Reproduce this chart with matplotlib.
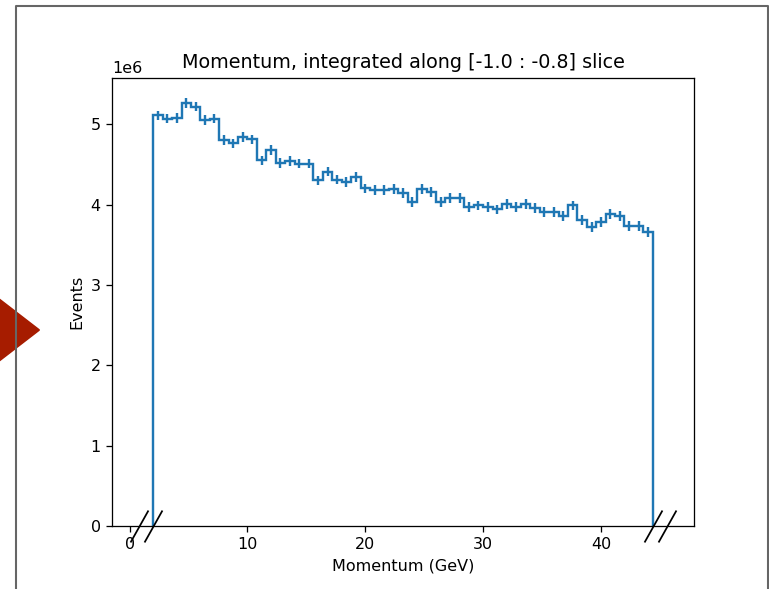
import numpy as np
import matplotlib
matplotlib.use("Agg")
import matplotlib.pyplot as plt
from matplotlib.patches import Polygon
from matplotlib.lines import Line2D
import matplotlib.transforms as mtransforms

# Momentum histogram, 53 bins of 0.8 GeV between 2.0 and 44.4 GeV
p_min = 2.0
p_max = 44.4
n_bins = 53

# Events per bin (units of 1e6)
events = [
    5.11, 5.07, 5.08, 5.26, 5.22, 5.05, 5.07, 4.80, 4.76, 4.84,
    4.81, 4.55, 4.68, 4.52, 4.54, 4.51, 4.51, 4.30, 4.41, 4.31,
    4.28, 4.34, 4.20, 4.18, 4.18, 4.19, 4.14, 4.03, 4.19, 4.16,
    4.03, 4.08, 4.08, 3.97, 3.99, 3.97, 3.94, 4.01, 3.97, 4.01,
    3.96, 3.91, 3.91, 3.86, 3.99, 3.81, 3.72, 3.78, 3.88, 3.86,
    3.73, 3.73, 3.66,
]
error = 0.06  # same units, roughly constant

edges = np.linspace(p_min, p_max, n_bins + 1)
centers = 0.5 * (edges[1:] + edges[:-1])
counts = np.array(events) * 1e6

W, H, DPI = 769, 589, 115
fig = plt.figure(figsize=(W / DPI, H / DPI), dpi=DPI)

# slide decorations: red arrow and gray frame around the figure
tri = Polygon([(-10 / W, 1 - 292 / H), (39.3 / W, 1 - 330 / H), (-10 / W, 1 - 368 / H)],
              closed=True, transform=fig.transFigure, color="#a61c00", zorder=0)
fig.add_artist(tri)
frame = Line2D([16.3 / W, 16.3 / W, 767.8 / W, 767.8 / W],
               [0, 1 - 5.5 / H, 1 - 5.5 / H, 0],
               transform=fig.transFigure, color="#666666", lw=1.3, zorder=1)
fig.add_artist(frame)

ax = fig.add_axes([112 / W, 63 / H, 582 / W, 448 / H])
ax.stairs(counts, edges, baseline=0, color="C0", lw=1.5)
ax.errorbar(centers, counts, yerr=error * 1e6, fmt="none", ecolor="C0", elinewidth=1.5)

# axis break marks at both ends of the x axis
trans = mtransforms.blended_transform_factory(ax.transData, ax.transAxes)
ax.plot([p_min - 1.2, p_min, p_max, p_max + 1.2], [0, 0, 0, 0], transform=trans,
        marker=[(-0.56, -1), (0.56, 1)], markersize=20, linestyle="none",
        color="k", mec="k", mew=1.1, clip_on=False, zorder=5)

ax.set_xlim(-1.5, 47.9)
ax.set_ylim(0, 5.575e6)
ax.set_title("Momentum, integrated along [-1.0 : -0.8] slice")
ax.set_xlabel("Momentum (GeV)")
ax.set_ylabel("Events")

fig.savefig("out.png", dpi=DPI)
